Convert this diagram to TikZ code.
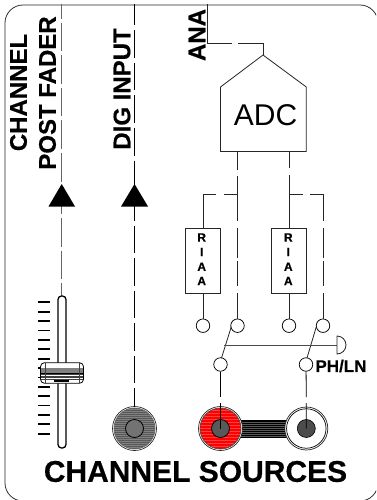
\documentclass[tikz,border=0pt]{standalone}
\usepackage{fontspec}
\setmainfont[BoldFeatures={FakeBold=0.35}]{Liberation Sans}
\newcommand{\ringstripes}[3]{% lines: colour, width, spacing
  \begin{scope}[shift={(path picture bounding box.center)}]
    \foreach \q in {-12,...,12} \draw[#1,line width=#2] (-26,\q*#3) -- (26,\q*#3);
  \end{scope}}
\tikzset{
  x=1pt,y=-1pt,
  wire/.style={line width=0.8pt,black!85},
  lab/.style={font=\bfseries\fontsize{24}{25}\selectfont,rotate=90,inner sep=0,text=black},
  term/.style={circle,draw=black,line width=0.75pt,fill=white,minimum size=13.5pt,inner sep=0},
  boxr/.style={draw=black!85,line width=0.75pt,minimum width=35pt,minimum height=64.3pt,inner sep=0},
  riaa/.style={font=\bfseries\fontsize{12}{13}\selectfont,inner sep=0,align=center},
  jack/.style={circle,draw=black!85,line width=0.7pt,minimum size=#1,inner sep=0},
}
\begin{document}
\begin{tikzpicture}
\useasboundingbox (0,0) rectangle (376,500);
\clip (0,0) rectangle (376,500);
\fill[white] (0,0) rectangle (376,500);
% frame
\draw[line width=0.75pt,rounded corners=18pt,black!85] (5,5) rectangle (378,501);
% named points
\coordinate (pfTop) at (61.7,4);
\coordinate (pfBot) at (61.7,296);
\coordinate (diTop) at (134.5,4);
\coordinate (diBot) at (134.5,407);
\coordinate (anaTop) at (207.5,4);
\coordinate (anaKnee) at (207.5,43.5);
\coordinate (anaKnee2) at (263,43.5);
% labels
\node[lab] (ch) at (18.5,92.5) {CHANNEL};
\node[lab] (pf) at (47.5,93) {POST FADER};
\node[lab] (di) at (122,89) {DIG INPUT};
\node[lab] (ana) at (197,35) {ANA};
% upper verticals
\draw[line width=0.9pt,black!60,dash pattern=on 28.5pt off 4pt,dash phase=13.5pt] (pfTop) -- (pfBot);
\draw[line width=0.8pt,black,dash pattern=on 27.5pt off 5pt,dash phase=6pt] (diTop) -- (diBot);
% triangles
\fill[black] (61.7,184) -- (75,206.5) -- (48.5,206.5) -- cycle;
\fill[black] (134.5,184) -- (148,206.5) -- (121,206.5) -- cycle;
% ANA wire
\draw[wire] (anaTop) -- (anaKnee) -- (232,43.5);
\draw[wire] (238,43.5) -- (anaKnee2) -- (263,55);
% ADC
\draw[line width=0.8pt,black!85,fill=white] (263,55) -- (306.3,87) -- (306.3,151.5) -- (220.5,151.5) -- (220.5,87) -- cycle;
\node[inner sep=0,font=\fontsize{30}{31}\selectfont] (adc) at (265.5,115) {ADC};
% R I A A
\node[boxr] (r1) at (203,261) {};
\node[boxr] (r2) at (289.3,261) {};
\node[riaa] at (201.7,237.5) {R};
\node[riaa] at (201.7,252) {I};
\node[riaa] at (201.7,266.7) {A};
\node[riaa] at (201.7,281) {A};
\node[riaa] at (288.3,237.5) {R};
\node[riaa] at (288.3,252) {I};
\node[riaa] at (288.3,266.7) {A};
\node[riaa] at (288.3,281) {A};
% terminals
\node[term] (a) at (203,325.7) {};
\node[term] (b) at (237.5,325.7) {};
\node[term] (c) at (289,325.7) {};
\node[term] (d) at (323,325.7) {};
\node[term] (e) at (220.5,364.5) {};
\node[term] (f) at (306,364.5) {};
% ADC outputs
\draw[wire] (237.5,151.5) -- (237.5,170) (237.5,176) -- (237.5,221) (237.5,228) -- (237.5,258) (237.5,261) -- (237.5,286) (237.5,293) -- (b);
\draw[wire] (289,151.5) -- (289,168) (289,175) -- (r2.north -| 289,229);
\draw[wire] (237.5,194.4) -- (224.3,194.4) (215.7,194.4) -- (203.3,194.4) -- (r1.north -| 203.3,229);
\draw[wire] (289,194.4) -- (303.3,194.4) (310,194.4) -- (323,194.4) -- (323,221) (323,228) -- (323,258) (323,261) -- (323,286) (323,293) -- (d);
\draw[wire] (r1.south) -- (a);
\draw[wire] (r2.south -| c) -- (c);
% switch
\draw[wire] (231.3,326.7) -- (221.5,358);
\draw[wire] (316.3,326.7) -- (307,358);
\draw[line width=1pt,black!70] (224,345) -- (337,345);
\draw[line width=0.8pt,black!85,fill=white] (337,336) arc[start angle=-90,end angle=90,x radius=9pt,y radius=-9pt] -- cycle;
\node[inner sep=0,font=\bfseries\fontsize{17}{18}\selectfont] (ph) at (341,366) {PH/LN};
% RCA connector band
\fill[black!65] (238,420) rectangle (290,437);
\foreach \yy in {421.5,423.5,...,436} \draw[black,line width=0.45pt] (238,\yy) -- (290,\yy);
\draw[black,line width=0.9pt] (238,420) -- (290,420) (238,437) -- (290,437);
% jacks
\node[jack=44pt,fill=white] (j0o) at (134.5,428.5) {};
\node[jack=41pt,fill=black!50,draw=black!60,path picture={\ringstripes{black!65}{0.5pt}{2}}] (j0) at (134.5,428.5) {};
\node[jack=18pt,fill=black!55,draw=black,line width=0.8pt] (j0i) at (134.5,428.5) {};
\node[jack=44pt,fill=white] (j1o) at (220.5,428.5) {};
\node[jack=41pt,fill=red,draw=black!70,path picture={\ringstripes{red!75!white}{0.3pt}{3}}] (j1) at (220.5,428.5) {};
\node[jack=18pt,fill=black!65,draw=black,line width=0.8pt] (j1i) at (220.5,428.5) {};
\node[jack=43pt,fill=white] (j2o) at (306.3,428.5) {};
\node[jack=39.5pt,fill=white,draw=black] (j2) at (306.3,428.5) {};
\node[jack=18pt,fill=black!70,draw=black,line width=0.6pt] (j2i) at (306.3,428.5) {};
% lower wires
\draw[wire,black] (e) -- (220.5,397) (220.5,403) -- (j1i.center);
\draw[wire,black] (f) -- (306.3,397) (306.3,403) -- (j2i.center);
\draw[wire,black] (diBot) -- (j0o.north);
% fader
\foreach \i in {0,...,14} \draw[black,line width=1.8pt] (38,302.3+9.39*\i) -- (50,302.3+9.39*\i);
\draw[black,line width=1.3pt,fill=white,rounded corners=3.5pt] (58,296) rectangle (66,448);
\draw[black,line width=0.8pt,fill=white,rounded corners=4pt] (40.5,362.7) rectangle (83.5,383.3);
\fill[black!50] (41,368) rectangle (83,372.5);
\foreach \yy in {374.5,376,...,379} \draw[black!75,line width=0.5pt] (41,\yy) -- (83,\yy);
\draw[black,line width=0.7pt] (40.5,373.5) -- (83.5,373.5);
\draw[black!75,line width=0.5pt] (45,363) -- (45,383) (79,363) -- (79,383);
\draw[black,line width=1.6pt] (54,381) -- (69,381);
% title
\node[inner sep=0,font=\bfseries\fontsize{30}{31}\selectfont] (title) at (195.5,471.5) {CHANNEL SOURCES};
\end{tikzpicture}
\end{document}
